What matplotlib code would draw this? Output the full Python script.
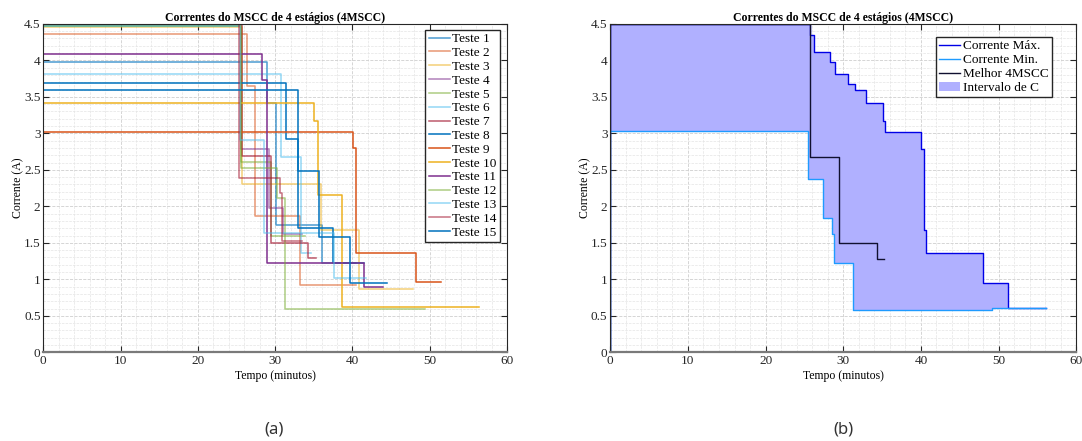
import numpy as np
import matplotlib
matplotlib.use('Agg')
import matplotlib.pyplot as plt
from matplotlib.patches import Patch
from matplotlib.ticker import MultipleLocator, FuncFormatter

plt.rcParams['font.family'] = ['Liberation Serif', 'DejaVu Serif']

# --- (a) tests: step times (last one = end of run) and currents (A) ---
test_times = [
    [0, 29.0, 30.1, 36.1, 40.5],            # Teste 1
    [0, 26.3, 27.4, 33.2, 40.4],            # Teste 2
    [0, 25.7, 35.9, 40.8, 47.8],            # Teste 3
    [0, 25.6, 29.2, 31.0, 33.5],            # Teste 4
    [0, 25.6, 29.5, 33.8],                  # Teste 5
    [0, 30.7, 33.4, 34.7],                  # Teste 6
    [0, 25.7, 29.5, 34.3, 35.3],            # Teste 7
    [0, 31.4, 33.0, 37.5, 41.5],            # Teste 8
    [0, 40.1, 40.5, 48.2, 51.4],            # Teste 9
    [0, 35.0, 35.5, 38.7, 56.4],            # Teste 10
    [0, 28.3, 28.9, 41.5, 44.0],            # Teste 11
    [0, 25.6, 30.3, 31.3, 49.4],            # Teste 12
    [0, 25.4, 28.6, 37.6, 41.7],            # Teste 13
    [0, 25.3, 30.6, 30.9, 33.5],            # Teste 14
    [0, 32.9, 35.7, 39.7, 44.5],            # Teste 15
]
test_currents = [
    [3.98, 3.41, 1.74, 1.23],
    [4.36, 3.65, 1.87, 0.92],
    [4.46, 2.30, 1.68, 0.87],
    [4.48, 2.78, 1.98, 1.62],
    [4.47, 2.61, 1.60],
    [3.81, 2.67, 1.36],
    [4.50, 2.69, 1.50, 1.29],
    [3.69, 2.92, 1.71, 1.23],
    [3.02, 2.80, 1.36, 0.96],
    [3.41, 3.17, 2.15, 0.62],
    [4.09, 3.73, 1.23, 0.90],
    [4.47, 2.52, 2.12, 0.59],
    [4.47, 2.91, 1.63, 1.02],
    [4.50, 2.39, 2.18, 1.52],
    [3.60, 2.48, 1.58, 0.945],
]
test_labels = ['Teste %d' % k for k in range(1, 16)]
matlab_colors = ['#0072BD', '#D95319', '#EDB120', '#7E2F8E', '#77AC30', '#4DBEEE', '#A2142F']
test_alpha = [0.7, 0.6, 0.6, 0.6, 0.6, 0.6, 0.7, 1, 1, 1, 1, 0.6, 0.6, 0.6, 1]

# --- (b) envelope and best run ---
max_t = [0, 25.7, 26.2, 28.3, 29.0, 30.6, 31.5, 32.9, 35.1, 35.4, 40.05, 40.4, 40.6, 47.95, 51.2, 56.1]
max_i = [4.5, 4.35, 4.12, 3.98, 3.81, 3.68, 3.59, 3.42, 3.17, 3.02, 2.79, 1.68, 1.36, 0.955, 0.61]
min_t = [0, 25.4, 27.4, 28.6, 28.8, 31.2, 49.2, 56.1]
min_i = [3.03, 2.38, 1.84, 1.62, 1.22, 0.58, 0.61]
best_t = [0, 25.7, 29.5, 34.3, 35.2]
best_i = [4.5, 2.68, 1.50, 1.28]


def step_xy(times, vals):
    # start from zero current at t=0, then hold each value until the next step
    x = [0] + list(times)
    y = [0] + list(vals) + [vals[-1]]
    return x, y


def step_at(times, vals, x):
    idx = np.searchsorted(times, x, side='right') - 1
    return np.asarray(vals)[np.clip(idx, 0, len(vals) - 1)]


def style_axes(ax):
    ax.set_xlim(0, 60)
    ax.set_ylim(0, 4.5)
    ax.xaxis.set_major_locator(MultipleLocator(10))
    ax.xaxis.set_minor_locator(MultipleLocator(2))
    ax.yaxis.set_major_locator(MultipleLocator(0.5))
    ax.yaxis.set_minor_locator(MultipleLocator(0.1))
    ax.yaxis.set_major_formatter(FuncFormatter(lambda v, p: ('%g' % v)))
    ax.grid(True, which='major', color='#cfcfcf', linestyle='--', linewidth=0.6)
    ax.grid(True, which='minor', color='#e4e4e4', linestyle='--', linewidth=0.5)
    ax.set_axisbelow(True)
    ax.tick_params(which='major', direction='in', length=4, top=True, right=True,
                   labelsize=9.5, colors='#262626', pad=2)
    ax.tick_params(which='minor', length=0)
    for s in ax.spines.values():
        s.set_color('#262626')
        s.set_linewidth(0.8)
    ax.spines['bottom'].set_color('#7a7a7a')
    ax.spines['bottom'].set_linewidth(1.6)
    ax.set_xlabel('Tempo (minutos)', fontsize=8.5, labelpad=2)
    ax.set_ylabel('Corrente (A)', fontsize=8.5, labelpad=0)
    ax.set_title('Correntes do MSCC de 4 estágios (4MSCC)', fontsize=8.5,
                 fontweight='bold', pad=2)


fig = plt.figure(figsize=(10.82, 4.41), dpi=100)
ax1 = fig.add_axes([0.040, 0.201, 0.4286, 0.745])
ax2 = fig.add_axes([0.564, 0.201, 0.4307, 0.745])

# (a)
for k in range(15):
    x, y = step_xy(test_times[k], test_currents[k])
    ax1.plot(x, y, drawstyle='steps-post', color=matlab_colors[k % 7],
             alpha=test_alpha[k], linewidth=1.1, label=test_labels[k])
style_axes(ax1)
ax1.legend(loc='upper right', bbox_to_anchor=(0.985, 0.982), fontsize=9.5,
           frameon=True, fancybox=False, edgecolor='#262626', framealpha=1,
           handlelength=1.6, handletextpad=0.2, labelspacing=0.12, borderpad=0.25,
           borderaxespad=0)

# (b)
grid_t = np.unique(np.concatenate([max_t, min_t]))
hi = step_at(max_t[:-1], max_i, grid_t)
lo = step_at(min_t[:-1], min_i, grid_t)
ax2.fill_between(grid_t, lo, hi, step='post', color='#b0b0ff', linewidth=0)
x, y = step_xy(max_t, max_i)
ax2.plot(x, y, drawstyle='steps-post', color='#0000e6', linewidth=1.0)
x, y = step_xy(min_t, min_i)
ax2.plot(x, y, drawstyle='steps-post', color='#1e9bff', linewidth=1.0)
x, y = step_xy(best_t, best_i)
ax2.plot(x, y, drawstyle='steps-post', color='#101030', linewidth=1.0)
style_axes(ax2)
handles = [plt.Line2D([], [], color='#0000e6', linewidth=1.0),
           plt.Line2D([], [], color='#1e9bff', linewidth=1.0),
           plt.Line2D([], [], color='#101030', linewidth=1.0),
           Patch(facecolor='#b0b0ff', edgecolor='none')]
ax2.legend(handles, ['Corrente Máx.', 'Corrente Min.', 'Melhor 4MSCC', 'Intervalo de C'],
           loc='upper right', bbox_to_anchor=(0.948, 0.96), fontsize=9.5,
           frameon=True, fancybox=False, edgecolor='#262626', framealpha=1,
           handlelength=1.6, handletextpad=0.2, labelspacing=0.12, borderpad=0.25,
           borderaxespad=0)

fig.text(274 / 1082, 1 - 430 / 441, '(a)', ha='center', va='center',
         fontsize=12, family=['Noto Sans', 'DejaVu Sans'], color='#333333')
fig.text(843 / 1082, 1 - 430 / 441, '(b)', ha='center', va='center',
         fontsize=12, family=['Noto Sans', 'DejaVu Sans'], color='#333333')

plt.savefig('out.png', dpi=100)
